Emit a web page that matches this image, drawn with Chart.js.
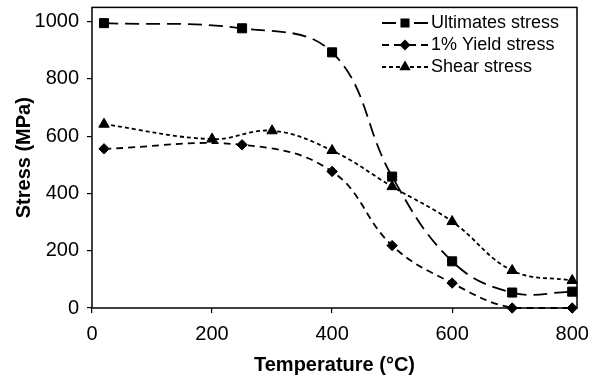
<!DOCTYPE html>
<html>
<head>
<meta charset="utf-8">
<script src="https://cdn.jsdelivr.net/npm/chart.js@4.4.1/dist/chart.umd.min.js"></script>
<style>
    html, body { margin: 0; padding: 0; background: #fff; }
    #wrap { width: 591px; height: 375px; }
</style>
</head>
<body>
<div id="wrap"><canvas id="stressChart" width="591" height="375"></canvas></div>
<script>
// data
const seriesNames = ['Ultimates stress', '1% Yield stress', 'Shear stress'];
const ultimateTemps = [20, 250, 400, 500, 600, 700, 800];
const ultimateValues = [995, 977, 893, 459, 163, 54, 57];
const yieldTemps = [20, 250, 400, 500, 600, 700, 800];
const yieldValues = [556, 570, 477, 218, 87, 0, 0];
const shearTemps = [20, 200, 300, 400, 500, 600, 700, 800];
const shearValues = [642, 590, 619, 550, 424, 302, 131, 96];
const xTicks = [0, 200, 400, 600, 800];
const yTicks = [0, 200, 400, 600, 800, 1000];

const toPoints = (xs, ys) => xs.map((x, i) => ({ x: x, y: ys[i] }));
const fontFamily = '"Liberation Sans", Arial, sans-serif';

// box around the plot area
const frameBox = {
    id: 'frameBox',
    beforeDatasetsDraw(chart) {
        const { ctx, chartArea: a } = chart;
        ctx.save();
        ctx.strokeStyle = '#000';
        ctx.lineWidth = 1.5;
        ctx.strokeRect(a.left, a.top, a.right - a.left, a.bottom - a.top);
        ctx.restore();
    }
};

// legend drawn inside the plot, top right
const insideLegend = {
    id: 'insideLegend',
    afterDraw(chart) {
        const ctx = chart.ctx;
        const rows = [23, 45, 67];
        chart.data.datasets.forEach((ds, i) => {
            const y = rows[i];
            ctx.save();
            ctx.strokeStyle = '#000';
            ctx.fillStyle = '#000';
            ctx.lineWidth = ds.borderWidth;
            ctx.setLineDash(ds.borderDash);
            ctx.beginPath();
            ctx.moveTo(382, y);
            ctx.lineTo(404, y);
            ctx.stroke();
            ctx.beginPath();
            ctx.moveTo(428, y);
            ctx.lineTo(406, y);
            ctx.stroke();
            ctx.setLineDash([]);
            Chart.helpers.drawPoint(ctx, {
                pointStyle: ds.pointStyle,
                radius: ds.pointRadius * 0.8,
                rotation: 0,
                borderWidth: 1
            }, 405, y);
            ctx.font = '18px ' + fontFamily;
            ctx.textBaseline = 'middle';
            ctx.textAlign = 'left';
            ctx.fillText(ds.label, 431, y);
            ctx.restore();
        });
    }
};

const makeSet = (label, data, dash, style, radius) => ({
    label: label,
    data: data,
    borderColor: '#000',
    backgroundColor: '#000',
    borderWidth: 1.8,
    borderDash: dash,
    pointStyle: style,
    pointRadius: radius,
    pointBorderWidth: 1,
    pointBackgroundColor: '#000',
    pointBorderColor: '#000',
    tension: 0.4,
    clip: false,
    fill: false
});

new Chart(document.getElementById('stressChart').getContext('2d'), {
    type: 'line',
    data: {
        datasets: [
            makeSet(seriesNames[0], toPoints(ultimateTemps, ultimateValues), [14, 7], 'rect', 6.4),
            makeSet(seriesNames[1], toPoints(yieldTemps, yieldValues), [7, 5], 'rectRot', 5.2),
            makeSet(seriesNames[2], toPoints(shearTemps, shearValues), [4, 3], 'triangle', 6)
        ]
    },
    options: {
        responsive: false,
        animation: false,
        devicePixelRatio: 1,
        layout: { padding: { left: 0, top: 7, right: 14, bottom: 0 } },
        plugins: {
            legend: { display: false },
            tooltip: { enabled: false }
        },
        scales: {
            x: {
                type: 'linear',
                min: 0,
                max: 808,
                afterBuildTicks: (scale) => { scale.ticks = xTicks.map(v => ({ value: v })); },
                afterFit: (scale) => {
                    scale.height = 67;
                    scale.paddingLeft = 0;
                    scale.paddingRight = 0;
                },
                grid: { drawOnChartArea: false, drawTicks: true, tickLength: 5, color: '#000', lineWidth: 1.2 },
                border: { display: false },
                ticks: {
                    color: '#000',
                    padding: 9,
                    maxRotation: 0,
                    callback: (v) => String(v),
                    font: { family: fontFamily, size: 20 }
                },
                title: {
                    display: true,
                    text: 'Temperature (°C)',
                    color: '#000',
                    padding: { top: 0, bottom: -2 },
                    font: { family: fontFamily, size: 20, weight: 'bold' }
                }
            },
            y: {
                type: 'linear',
                min: 0,
                max: 1050,
                afterBuildTicks: (scale) => { scale.ticks = yTicks.map(v => ({ value: v })); },
                afterFit: (scale) => {
                    scale.width = 92;
                    scale.paddingTop = 0;
                    scale.paddingBottom = 0;
                },
                grid: { drawOnChartArea: false, drawTicks: true, tickLength: 5, color: '#000', lineWidth: 1.2 },
                border: { display: false },
                ticks: {
                    color: '#000',
                    padding: 8,
                    callback: (v) => String(v),
                    font: { family: fontFamily, size: 20 }
                },
                title: {
                    display: true,
                    text: 'Stress (MPa)',
                    color: '#000',
                    padding: { top: 12, bottom: 0 },
                    font: { family: fontFamily, size: 20, weight: 'bold' }
                }
            }
        }
    },
    plugins: [frameBox, insideLegend]
});
</script>
</body>
</html>
